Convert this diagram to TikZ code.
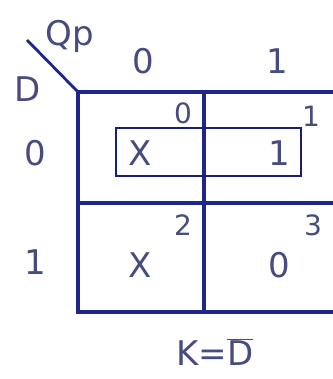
\documentclass[tikz,border=0pt]{standalone}
\usepackage{fontspec}
\setmainfont{DejaVu Sans}
\definecolor{gridblue}{RGB}{30,38,140}
\definecolor{txtblue}{RGB}{70,76,125}
\begin{document}
\begin{tikzpicture}[x=1pt,y=-1pt,
  grid/.style={draw=gridblue,line width=3.4pt},
  thin/.style={draw=gridblue!80!black,line width=1.7pt},
  lbl/.style={text=txtblue,font=\fontsize{34}{34}\selectfont,inner sep=0pt},
  idx/.style={text=txtblue,font=\fontsize{28}{28}\selectfont,inner sep=0pt}]
\useasboundingbox (0,0) rectangle (332,379);
\fill[white] (0,0) rectangle (332,379);
% grid
\coordinate (tl) at (78,92);
\coordinate (tr) at (340,92);
\coordinate (ml) at (78,203);
\coordinate (mr) at (340,203);
\coordinate (bl) at (78,312);
\coordinate (br) at (340,312);
\coordinate (vt) at (204,92);
\coordinate (vb) at (204,312);
\coordinate (dg) at (27,40);
\draw[grid] (tr) -- (tl) -- (bl) -- (br);
\draw[grid] (ml) -- (mr);
\draw[grid] (vt) -- (vb);
\draw[grid,line width=2.8pt] (dg) -- (tl);
% group rectangle
\draw[thin] (116,128) rectangle (301,176);
% headers
\node[lbl] (qp) at (70,36) {Qp};
\node[lbl] (d) at (28,89) {D};
\node[lbl] (c0) at (143,61) {0};
\node[lbl] (c1) at (277,61) {1};
\node[lbl] (r0) at (35,153) {0};
\node[lbl] (r1) at (35,262) {1};
% indices
\node[idx] (i0) at (183,113) {0};
\node[idx] (i1) at (311,116) {1};
\node[idx] (i2) at (183,225) {2};
\node[idx] (i3) at (313,225) {3};
% values
\node[lbl] (v0) at (140,153) {X};
\node[lbl] (v1) at (279,153) {1};
\node[lbl] (v2) at (140,265) {X};
\node[lbl] (v3) at (279,265) {0};
% result
\node[lbl] (k) at (215,352) {K=$\overline{\mbox{D}}$};
\end{tikzpicture}
\end{document}
